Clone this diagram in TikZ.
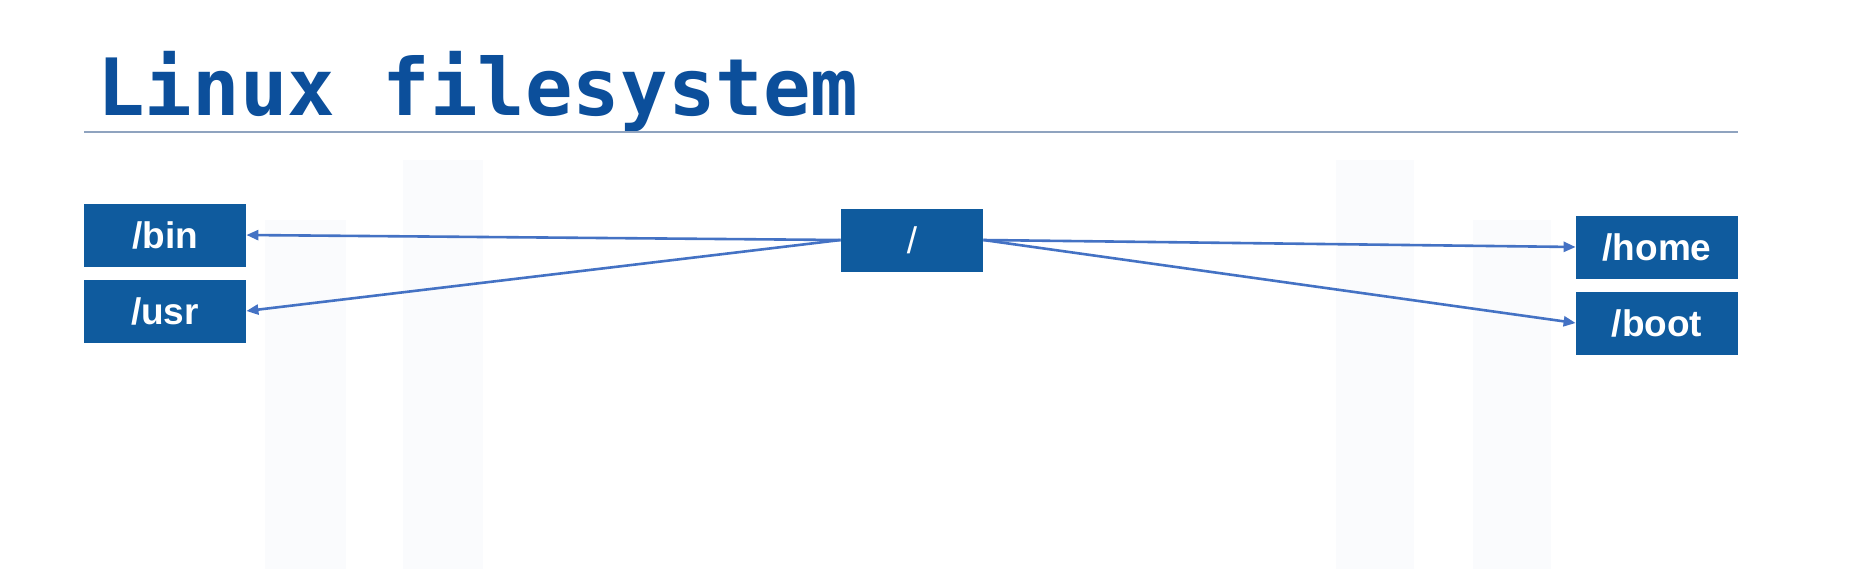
\documentclass[tikz,border=0pt]{standalone}
\usepackage{fontspec}
\setmainfont{Liberation Sans}
\newfontfamily\titlefont{DejaVu Sans Mono Bold}
\usetikzlibrary{arrows.meta}
\definecolor{titleblue}{HTML}{0C4F9B}
\definecolor{boxblue}{HTML}{0F5B9E}
\definecolor{arrowblue}{HTML}{4472C4}
\definecolor{rulegray}{HTML}{8FA3BF}
\definecolor{ghost}{HTML}{FAFBFD}
\tikzset{
  dirbox/.style={fill=boxblue, text=white, inner sep=0pt, minimum width=81pt,
    minimum height=31.5pt, font=\fontsize{18.5}{20}\selectfont\bfseries},
  link/.style={arrowblue, line width=1.3pt, -{Triangle[length=6pt,width=5pt]}}
}
\begin{document}
\begin{tikzpicture}[x=0.5pt, y=-0.5pt]
    \useasboundingbox[fill=white] (0,0) rectangle (1871,569);
    % 背景的淡色柱
    \fill[ghost] (265,220) rectangle (346,569);
    \fill[ghost] (403,160) rectangle (483,569);
    \fill[ghost] (1336,160) rectangle (1414,569);
    \fill[ghost] (1473,220) rectangle (1551,569);
    % 标题与横线
    \node[anchor=base west, inner sep=0pt, text=titleblue,
      font=\titlefont\fontsize{39.5}{42}\selectfont] (title) at (97,115) {Linux filesystem};
    \draw[rulegray, line width=1pt] (84,132) -- (1738,132);
    % 根目录
    \node[dirbox, minimum width=71pt, font=\fontsize{18.5}{20}\selectfont] (root) at (912,240) {/};
    % 左边两个目录
    \node[dirbox] (bin) at (165,235) {/bin};
    \node[dirbox] (usr) at (165,311) {/usr};
    % 右边两个目录
    \node[dirbox] (home) at (1657,247) {/home};
    \node[dirbox] (boot) at (1657,323) {/boot};
    \draw[link] (root.west) -- (bin.east);
    \draw[link] (root.west) -- (usr.east);
    \draw[link] (root.east) -- (home.west);
    \draw[link] (root.east) -- (boot.west);
\end{tikzpicture}
\end{document}
